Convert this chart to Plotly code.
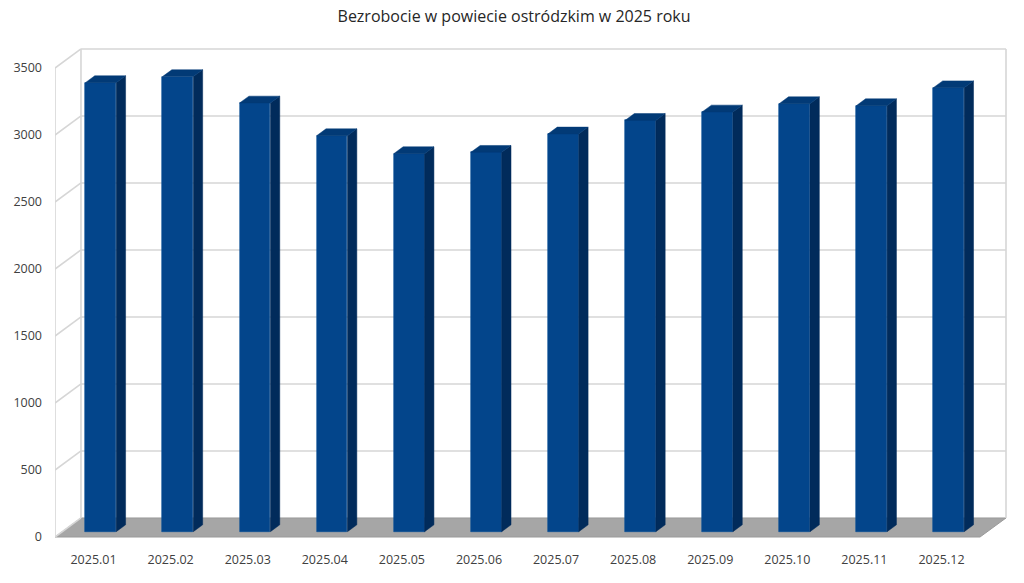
import plotly.graph_objects as go

# ---- data ----
categories = ["2025.01", "2025.02", "2025.03", "2025.04", "2025.05", "2025.06",
              "2025.07", "2025.08", "2025.09", "2025.10", "2025.11", "2025.12"]
values = [3351, 3396, 3199, 2955, 2821, 2831, 2968, 3069, 3132, 3194, 3179, 3313]
y_ticks = [0, 500, 1000, 1500, 2000, 2500, 3000, 3500]
title_text = "Bezrobocie w powiecie ostródzkim w 2025 roku"

# ---- 3D projection parameters (in data units) ----
DX = 0.337      # full depth offset along x (category units)
DY = 142.0      # full depth offset along y (value units)
F1, F2 = 0.28, 0.64   # front / back depth fraction of the bars
W = 0.40        # bar width (category units)
YMAX = y_ticks[-1]
n = len(categories)
xs = list(range(n))

FRONT = "#03458B"
SIDE = "#012B5B"
TOP = "#023A76"
GRID = "#d6d6d6"

fig = go.Figure()

shapes = []
x_l, x_r = -0.5, n - 0.5
# floor
shapes.append(dict(type="path", xref="x", yref="y",
                   path=f"M {x_l},0 L {x_r},0 L {x_r+DX},{DY} L {x_l+DX},{DY} Z",
                   fillcolor="#a6a6a6", line=dict(color="#9a9a9a", width=1), layer="below"))
# back wall gridlines + left wall diagonals
for v in y_ticks:
    if v > 0:
        shapes.append(dict(type="line", xref="x", yref="y", x0=x_l+DX, x1=x_r+DX, y0=v+DY, y1=v+DY,
                           line=dict(color=GRID, width=1.6), layer="below"))
    shapes.append(dict(type="line", xref="x", yref="y", x0=x_l, x1=x_l+DX, y0=v, y1=v+DY,
                       line=dict(color=GRID, width=1.6), layer="below"))
# vertical edges
shapes.append(dict(type="line", xref="x", yref="y", x0=x_l, x1=x_l, y0=0, y1=YMAX,
                   line=dict(color=GRID, width=1.6), layer="below"))
shapes.append(dict(type="line", xref="x", yref="y", x0=x_l+DX, x1=x_l+DX, y0=DY, y1=YMAX+DY,
                   line=dict(color=GRID, width=1.6), layer="below"))
shapes.append(dict(type="line", xref="x", yref="y", x0=x_r+DX, x1=x_r+DX, y0=DY, y1=YMAX+DY,
                   line=dict(color=GRID, width=1.6), layer="below"))

# side and top faces
side_x, side_y, top_x, top_y = [], [], [], []
for i, v in zip(xs, values):
    xl = i - W / 2
    xr = i + W / 2
    side_x += [xr+F1*DX, xr+F2*DX, xr+F2*DX, xr+F1*DX, xr+F1*DX, None]
    side_y += [F1*DY, F2*DY, v+F2*DY, v+F1*DY, F1*DY, None]
    top_x += [xl+F1*DX, xr+F1*DX, xr+F2*DX, xl+F2*DX, xl+F1*DX, None]
    top_y += [v+F1*DY, v+F1*DY, v+F2*DY, v+F2*DY, v+F1*DY, None]

fig.add_trace(go.Scatter(x=side_x, y=side_y, mode="lines", fill="toself", fillcolor=SIDE,
                         line=dict(color=SIDE, width=0.5), hoverinfo="skip", showlegend=False))
fig.add_trace(go.Scatter(x=top_x, y=top_y, mode="lines", fill="toself", fillcolor=TOP,
                         line=dict(color=TOP, width=0.5), hoverinfo="skip", showlegend=False))
fig.add_trace(go.Bar(x=[i + F1*DX for i in xs], y=values, base=[F1*DY]*n, width=W,
                     marker=dict(color=FRONT, line=dict(color="#0a4f96", width=0.6)),
                     showlegend=False, hovertext=categories))

px_per_unit_y = 469 / 3500.0
plot_h = 500
y_bottom = -3 / px_per_unit_y
y_top = y_bottom + plot_h / px_per_unit_y

fig.update_layout(
    width=1024, height=583,
    margin=dict(l=55, r=17, t=40, b=43),
    paper_bgcolor="white", plot_bgcolor="white",
    shapes=shapes,
    title=dict(text=title_text, x=0.502, xanchor="center", y=1 - 16/583, yanchor="middle",
               yref="container", font=dict(family="Open Sans", size=16, color="#262626")),
    xaxis=dict(range=[-0.5, 11.85], tickmode="array", tickvals=xs, ticktext=categories,
               showgrid=False, zeroline=False, showline=False, ticks="",
               ticklabelstandoff=10,
               tickfont=dict(family="Open Sans", size=12.5, color="#404040")),
    yaxis=dict(range=[y_bottom, y_top], tickmode="array", tickvals=y_ticks,
               ticktext=[str(t) for t in y_ticks],
               showgrid=False, zeroline=False, showline=False, ticks="",
               ticklabelstandoff=12,
               tickfont=dict(family="Open Sans", size=12.5, color="#404040")),
    bargap=0,
)

fig.write_html("out.html")
